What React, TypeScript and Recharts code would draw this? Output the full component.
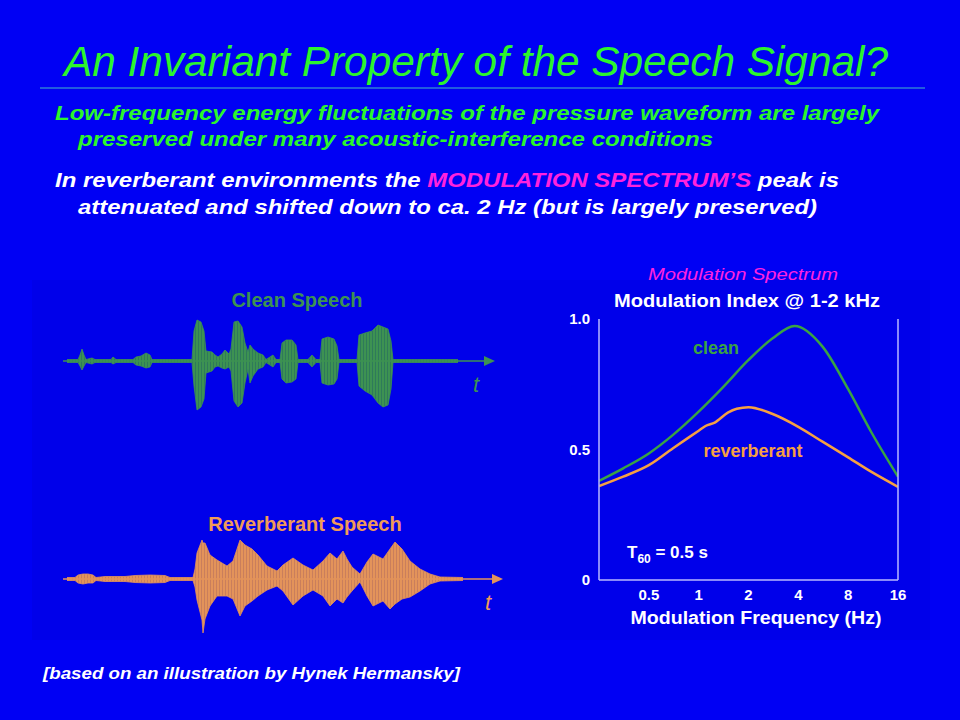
import React from 'react';
import { AreaChart, Area, LineChart, Line, XAxis, YAxis, ReferenceLine, ReferenceDot } from 'recharts';

const FONT = "'Liberation Sans', Arial, Helvetica, sans-serif";

// Modulation spectrum (log frequency axis)
const modTicks = [0.5, 1, 2, 4, 8, 16];
const cleanFreq = [0.25, 0.35, 0.5, 0.7, 1, 1.4, 2, 2.8, 3.8, 5.6, 8, 11, 16];
const cleanIndex = [0.38, 0.428, 0.485, 0.556, 0.645, 0.738, 0.843, 0.926, 0.973, 0.894, 0.731, 0.568, 0.396];
const reverbFreq = [0.25, 0.35, 0.5, 0.7, 1, 1.1, 1.25, 1.5, 1.7, 2, 2.8, 4, 5.6, 8, 11, 16];
const reverbIndex = [0.36, 0.396, 0.44, 0.505, 0.572, 0.59, 0.603, 0.641, 0.656, 0.662, 0.636, 0.587, 0.53, 0.47, 0.415, 0.357];

// Clean speech waveform envelope (time in s, amplitude above / below the axis)
const cleanTime = [0.04, 0.15, 0.17, 0.19, 0.21, 0.23, 0.29, 0.32, 0.48, 0.5, 0.53, 0.7, 0.73, 0.78, 0.83, 0.87, 0.89,
  1.29, 1.31, 1.34, 1.38, 1.41, 1.43, 1.49, 1.52, 1.55, 1.59, 1.62, 1.66, 1.68, 1.71, 1.75, 1.79, 1.82, 1.85, 1.87, 1.9,
  1.95, 2.0, 2.03, 2.07, 2.1, 2.13, 2.17, 2.19, 2.23, 2.29, 2.33, 2.35, 2.45, 2.49, 2.53, 2.57, 2.59, 2.65, 2.71, 2.74,
  2.76, 2.94, 2.96, 3.02, 3.09, 3.15, 3.2, 3.25, 3.28, 3.3, 3.95];
const cleanHigh = [0.03, 0.03, 0.12, 0.24, 0.12, 0.03, 0.06, 0.03, 0.03, 0.08, 0.03, 0.03, 0.08, 0.1, 0.16, 0.12, 0.03,
  0.03, 0.6, 0.82, 0.78, 0.6, 0.2, 0.18, 0.12, 0.08, 0.14, 0.22, 0.14, 0.24, 0.78, 0.8, 0.68, 0.36, 0.18, 0.32, 0.24,
  0.16, 0.12, 0.03, 0.08, 0.12, 0.03, 0.03, 0.36, 0.42, 0.42, 0.32, 0.03, 0.03, 0.12, 0.03, 0.03, 0.44, 0.48, 0.44, 0.3,
  0.03, 0.03, 0.52, 0.56, 0.6, 0.72, 0.68, 0.64, 0.4, 0.03, 0.03];
const cleanLow = [0.03, 0.03, 0.1, 0.18, 0.1, 0.03, 0.06, 0.03, 0.03, 0.06, 0.03, 0.03, 0.08, 0.1, 0.14, 0.12, 0.03,
  0.03, 0.5, 0.98, 0.92, 0.76, 0.24, 0.2, 0.12, 0.1, 0.14, 0.16, 0.12, 0.2, 0.8, 0.92, 0.84, 0.44, 0.16, 0.44, 0.3,
  0.16, 0.12, 0.03, 0.08, 0.12, 0.03, 0.03, 0.36, 0.44, 0.42, 0.36, 0.03, 0.03, 0.12, 0.03, 0.03, 0.44, 0.48, 0.46, 0.36,
  0.03, 0.03, 0.5, 0.6, 0.68, 0.84, 0.92, 0.88, 0.56, 0.03, 0.03];

// Reverberant speech waveform envelope
const reverbTime = [0.04, 0.12, 0.15, 0.2, 0.25, 0.3, 0.33, 0.42, 0.62, 0.72, 0.87, 1.02, 1.07, 1.3, 1.32, 1.34, 1.39,
  1.4, 1.42, 1.47, 1.54, 1.64, 1.7, 1.77, 1.82, 1.89, 1.95, 2.04, 2.14, 2.2, 2.3, 2.4, 2.5, 2.6, 2.67, 2.74, 2.8, 2.84,
  2.89, 2.97, 3.04, 3.1, 3.2, 3.27, 3.32, 3.39, 3.47, 3.57, 3.67, 3.77, 4.0];
const reverbHigh = [0.03, 0.03, 0.08, 0.1, 0.1, 0.08, 0.03, 0.05, 0.05, 0.07, 0.08, 0.07, 0.03, 0.03, 0.2, 0.52, 0.78,
  0.72, 0.72, 0.48, 0.38, 0.26, 0.36, 0.78, 0.68, 0.6, 0.48, 0.26, 0.16, 0.28, 0.42, 0.28, 0.18, 0.36, 0.52, 0.4, 0.56,
  0.4, 0.24, 0.1, 0.34, 0.5, 0.4, 0.6, 0.74, 0.6, 0.36, 0.2, 0.1, 0.04, 0.03];
const reverbLow = [0.03, 0.03, 0.08, 0.1, 0.08, 0.08, 0.03, 0.05, 0.05, 0.07, 0.08, 0.07, 0.03, 0.03, 0.16, 0.42, 0.82,
  1.08, 0.8, 0.54, 0.34, 0.34, 0.4, 0.74, 0.54, 0.44, 0.34, 0.22, 0.14, 0.24, 0.52, 0.34, 0.22, 0.34, 0.54, 0.4, 0.48,
  0.36, 0.24, 0.06, 0.34, 0.54, 0.44, 0.6, 0.5, 0.4, 0.36, 0.24, 0.1, 0.04, 0.03];

const cleanAxis = { end: 4.32, head: 4.26 };
const reverbAxis = { end: 4.4, head: 4.34 };

const GREEN = '#3d9252';
const GREEN_DARK = '#2f7a5a';
const ORANGE = '#e3935a';
const ORANGE_DARK = '#c97e5c';
const FRAME = '#b8b8ff';

const cleanData = cleanTime.map((t, i) => ({ t, band: [-cleanLow[i], cleanHigh[i]] }));
const reverbData = reverbTime.map((t, i) => ({ t, band: [-reverbLow[i], reverbHigh[i]] }));
const cleanSpec = cleanFreq.map((f, i) => ({ f, v: cleanIndex[i] }));
const reverbSpec = reverbFreq.map((f, i) => ({ f, v: reverbIndex[i] }));

const arrowHead = (color: string) => (p: any) => (
  <polygon points={`${p.cx - 5},${p.cy - 5} ${p.cx + 6},${p.cy} ${p.cx - 5},${p.cy + 5}`} fill={color} />
);

// speech trace: envelope filled with thin vertical stripes, like the sampled waveform
const Waveform = ({ id, data, axis, color, dark, yMax, width, height }: any) => (
  <AreaChart width={width} height={height} data={data} margin={{ top: 0, right: 8, bottom: 0, left: 0 }}>
    <defs>
      <pattern id={id} width={3} height={8} patternUnits="userSpaceOnUse">
        <rect width={3} height={8} fill={color} />
        <rect width={1} height={8} fill={dark} />
      </pattern>
    </defs>
    <XAxis type="number" dataKey="t" domain={[0, axis.end]} hide />
    <YAxis domain={[-yMax, yMax]} hide />
    <ReferenceLine segment={[{ x: 0, y: 0 }, { x: axis.head, y: 0 }]} stroke={color} strokeWidth={1.5} />
    <ReferenceDot x={axis.head} y={0} r={5} shape={arrowHead(color)} />
    <Area type="linear" dataKey="band" stroke={color} strokeWidth={0.8} fill={`url(#${id})`} fillOpacity={1} isAnimationActive={false} />
  </AreaChart>
);

const tickStyle = { fill: '#ffffff', fontSize: 15, fontWeight: 'bold', fontFamily: FONT };

export default function App() {
  return (
    <div style={{ position: 'absolute', left: 0, top: 0, width: 960, height: 720, background: '#0000f4', overflow: 'hidden', fontFamily: FONT }}>
      <div style={{ position: 'absolute', left: 32, top: 280, width: 898, height: 360, background: '#0000ea' }} />

      <svg width={960} height={720} style={{ position: 'absolute', left: 0, top: 0 }}>
        <text x={64} y={76} fontSize={42} fontStyle="italic" fill="#2cf52c" textLength={824} lengthAdjust="spacingAndGlyphs">
          An Invariant Property of the Speech Signal?
        </text>
        <line x1={40} x2={925} y1={88} y2={88} stroke="#45b8c8" strokeWidth={1} />
        <g fontSize={21} fontWeight="bold" fontStyle="italic">
          <text x={55} y={120} fill="#2cf52c" textLength={824} lengthAdjust="spacingAndGlyphs">
            Low-frequency energy fluctuations of the pressure waveform are largely
          </text>
          <text x={78} y={146} fill="#2cf52c" textLength={635} lengthAdjust="spacingAndGlyphs">
            preserved under many acoustic-interference conditions
          </text>
          <text x={55} y={187} fill="#ffffff" textLength={784} lengthAdjust="spacingAndGlyphs">
            In reverberant environments the <tspan fill="#ff22dd">MODULATION SPECTRUM’S</tspan> peak is
          </text>
          <text x={78} y={214} fill="#ffffff" textLength={739} lengthAdjust="spacingAndGlyphs">
            attenuated and shifted down to ca. 2 Hz (but is largely preserved)
          </text>
        </g>
        <text x={43} y={679} fontSize={17} fontWeight="bold" fontStyle="italic" fill="#ffffff" textLength={417} lengthAdjust="spacingAndGlyphs">
          [based on an illustration by Hynek Hermansky]
        </text>

        <text x={297} y={307} fontSize={20} fontWeight="bold" fill={GREEN} textAnchor="middle">Clean Speech</text>
        <text x={476} y={392} fontSize={22} fontStyle="italic" fill={GREEN} textAnchor="middle">t</text>
        <text x={305} y={531} fontSize={20} fontWeight="bold" fill="#f09a58" textAnchor="middle">Reverberant Speech</text>
        <text x={488} y={610} fontSize={22} fontStyle="italic" fill="#f09a58" textAnchor="middle">t</text>

        <text x={743} y={280} fontSize={17} fontStyle="italic" fill="#ff22e0" textAnchor="middle" textLength={190} lengthAdjust="spacingAndGlyphs">
          Modulation Spectrum
        </text>
        <text x={747} y={307} fontSize={18} fontWeight="bold" fill="#ffffff" textAnchor="middle" textLength={266} lengthAdjust="spacingAndGlyphs">
          Modulation Index @ 1-2 kHz
        </text>
        <text x={756} y={624} fontSize={18} fontWeight="bold" fill="#ffffff" textAnchor="middle" textLength={251} lengthAdjust="spacingAndGlyphs">
          Modulation Frequency (Hz)
        </text>
        <text x={716} y={354} fontSize={18} fontWeight="bold" fill="#3aa244" textAnchor="middle">clean</text>
        <text x={753} y={457} fontSize={18} fontWeight="bold" fill="#f5a042" textAnchor="middle">reverberant</text>
        <text x={627} y={558} fontSize={17} fontWeight="bold" fill="#ffffff">
          T<tspan fontSize={12} dy={5}>60</tspan><tspan dy={-5}> = 0.5 s</tspan>
        </text>
      </svg>

      <div style={{ position: 'absolute', left: 63, top: 311 }}>
        <Waveform id="cleanStripes" data={cleanData} axis={cleanAxis} color={GREEN} dark={GREEN_DARK} yMax={1} width={440} height={100} />
      </div>
      <div style={{ position: 'absolute', left: 63, top: 524 }}>
        <Waveform id="reverbStripes" data={reverbData} axis={reverbAxis} color={ORANGE} dark={ORANGE_DARK} yMax={1.1} width={448} height={110} />
      </div>

      <div style={{ position: 'absolute', left: 540, top: 260 }}>
        <LineChart width={400} height={380} margin={{ top: 59, right: 40, bottom: 30, left: 19 }}>
          <XAxis
            type="number"
            dataKey="f"
            scale="log"
            domain={[0.25, 16]}
            ticks={modTicks}
            allowDataOverflow
            interval={0}
            height={30}
            axisLine={{ stroke: FRAME, strokeWidth: 1.5 }}
            tickLine={false}
            tickSize={6}
            tickMargin={3}
            tick={tickStyle}
          />
          <YAxis
            yAxisId="l"
            domain={[0, 1]}
            ticks={[0, 0.5, 1]}
            tickFormatter={(v: number) => (v === 1 ? '1.0' : String(v))}
            width={40}
            axisLine={{ stroke: FRAME, strokeWidth: 1.5 }}
            tickLine={false}
            tickSize={6}
            tickMargin={3}
            tick={tickStyle}
          />
          <YAxis
            yAxisId="r"
            orientation="right"
            domain={[0, 1]}
            width={2}
            axisLine={{ stroke: FRAME, strokeWidth: 1.5 }}
            tick={false}
            tickLine={false}
          />
          <Line yAxisId="l" data={cleanSpec} dataKey="v" type="monotone" stroke="#3aa244" strokeWidth={2.5} dot={false} isAnimationActive={false} />
          <Line yAxisId="l" data={reverbSpec} dataKey="v" type="monotone" stroke="#f5a042" strokeWidth={2.5} dot={false} isAnimationActive={false} />
        </LineChart>
      </div>
    </div>
  );
}
